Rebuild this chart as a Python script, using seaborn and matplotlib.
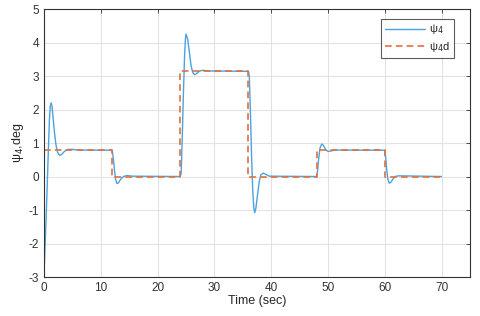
import numpy as np
import pandas as pd
import matplotlib
matplotlib.use("Agg")
import matplotlib.pyplot as plt
import seaborn as sns

# desired psi_4 (deg): step changes
t_des = [0, 12, 24, 36, 48, 60, 70]
psi_des = [0.785, 0.0, 3.14, 0.0, 0.785, 0.0, 0.0]

t_act = [0, 0.25, 0.5, 0.75, 0.95, 1.1, 1.25, 1.4, 1.6, 1.85, 2.1, 2.4, 2.75, 3.1, 3.6, 4.2, 5.0, 6.0,
         12.0, 12.2, 12.4, 12.6, 12.85, 13.1, 13.5, 14.0, 14.6, 15.5,
         24.0, 24.15, 24.35, 24.55, 24.75, 24.9, 25.0, 25.3, 25.6, 25.9, 26.2, 26.5, 26.9, 27.4, 28.0, 29.0,
         36.0, 36.15, 36.35, 36.55, 36.75, 36.95, 37.1, 37.3, 37.6, 37.9, 38.2, 38.6, 39.1, 39.7,
         48.0, 48.15, 48.35, 48.6, 48.9, 49.2, 49.6, 50.0, 50.5, 51.2,
         60.0, 60.15, 60.35, 60.55, 60.8, 61.1, 61.5, 62.0, 62.6, 70.0]
psi_act = [-2.9, -1.8, -0.6, 0.7, 1.7, 2.1, 2.2, 2.1, 1.75, 1.3, 0.95, 0.72, 0.63, 0.66, 0.75, 0.81, 0.81, 0.79,
           0.785, 0.55, 0.2, -0.08, -0.21, -0.19, -0.08, 0.0, 0.03, 0.01,
           0.0, 0.1, 1.2, 2.5, 3.6, 4.1, 4.25, 4.1, 3.7, 3.3, 3.1, 3.04, 3.08, 3.15, 3.17, 3.15,
           3.14, 3.0, 1.9, 0.6, -0.4, -0.95, -1.08, -0.95, -0.55, -0.15, 0.05, 0.1, 0.06, 0.01,
           0.0, 0.15, 0.5, 0.85, 0.97, 0.93, 0.8, 0.75, 0.76, 0.79,
           0.785, 0.6, 0.2, -0.08, -0.2, -0.17, -0.06, 0.01, 0.02, 0.0]

df_act = pd.DataFrame({"t": t_act, "psi": psi_act})
df_des = pd.DataFrame({"t": t_des, "psi": psi_des})

sns.set_style("white")
plt.rcParams["font.family"] = ["Liberation Sans", "DejaVu Sans"]
plt.rcParams["axes.unicode_minus"] = False

fig = plt.figure(figsize=(4.8, 3.16), dpi=100)
ax = fig.add_axes([0.0917, 0.1234, 0.8873, 0.8481])

sns.lineplot(data=df_act, x="t", y="psi", ax=ax, color="#4aa3df", linewidth=1.0,
             label="ψ$_4$", sort=False)
sns.lineplot(data=df_des, x="t", y="psi", ax=ax, color="#e0703f", linewidth=1.2,
             linestyle=(0, (4, 2.5)), drawstyle="steps-post", label="ψ$_4$d")

ax.set_xlim(0, 75)
ax.set_ylim(-3, 5)
ax.set_xticks(range(0, 71, 10))
ax.set_yticks(range(-3, 6))
ax.grid(True, color="#e3e3e3", linewidth=0.8)
ax.tick_params(direction="in", length=3, labelsize=8.5, colors="#333333", width=0.6,
               top=True, right=True)
for s in ax.spines.values():
    s.set_color("#333333")
    s.set_linewidth(0.8)

ax.set_xlabel("Time (sec)", fontsize=9, labelpad=1)
ax.set_ylabel("ψ$_4$,deg", fontsize=9, labelpad=2)

leg = ax.legend(loc="upper right", fontsize=8, frameon=True, fancybox=False,
                handlelength=3.6, handletextpad=0.4, borderpad=0.35, labelspacing=0.3,
                bbox_to_anchor=(0.975, 0.985))
leg.get_frame().set_edgecolor("#333333")
leg.get_frame().set_linewidth(0.8)

fig.savefig("out.png", dpi=100)
